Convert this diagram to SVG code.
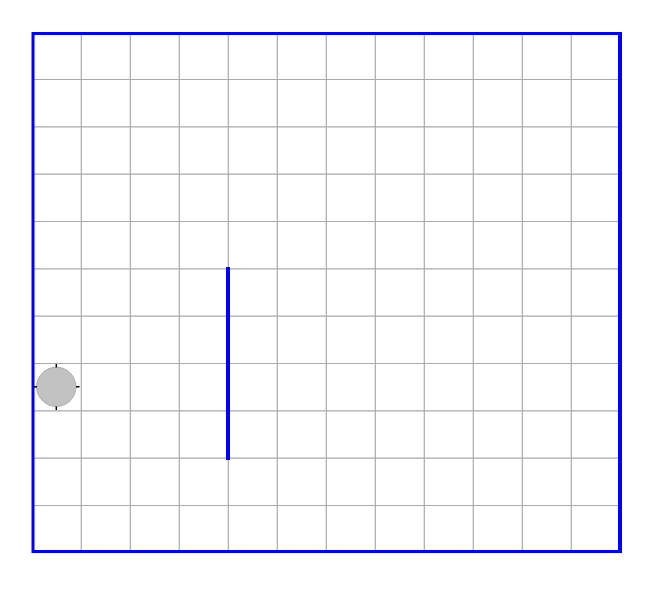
<svg xmlns="http://www.w3.org/2000/svg" width="653" height="589" viewBox="0 0 653 589">
<style>
.grid line{stroke:#aaaaaa;stroke-width:1.2}
.wall{stroke:#0000ff;fill:none}
.tick{stroke:#000;stroke-width:1.5}
</style>
<rect width="653" height="589" fill="#fff"/>
<g class="grid" id="grid">
<line x1="81.3" y1="33" x2="81.3" y2="551"/>
<line x1="130.3" y1="33" x2="130.3" y2="551"/>
<line x1="179.3" y1="33" x2="179.3" y2="551"/>
<line x1="228.3" y1="33" x2="228.3" y2="551"/>
<line x1="277.3" y1="33" x2="277.3" y2="551"/>
<line x1="326.3" y1="33" x2="326.3" y2="551"/>
<line x1="375.3" y1="33" x2="375.3" y2="551"/>
<line x1="424.3" y1="33" x2="424.3" y2="551"/>
<line x1="473.3" y1="33" x2="473.3" y2="551"/>
<line x1="522.3" y1="33" x2="522.3" y2="551"/>
<line x1="571.3" y1="33" x2="571.3" y2="551"/>
<line x1="32" y1="79.5" x2="620" y2="79.5"/>
<line x1="32" y1="126.8" x2="620" y2="126.8"/>
<line x1="32" y1="174.2" x2="620" y2="174.2"/>
<line x1="32" y1="221.5" x2="620" y2="221.5"/>
<line x1="32" y1="268.8" x2="620" y2="268.8"/>
<line x1="32" y1="316.2" x2="620" y2="316.2"/>
<line x1="32" y1="363.5" x2="620" y2="363.5"/>
<line x1="32" y1="410.8" x2="620" y2="410.8"/>
<line x1="32" y1="458.2" x2="620" y2="458.2"/>
<line x1="32" y1="505.5" x2="620" y2="505.5"/>
</g>
<g id="walls">
<rect class="wall" x="33" y="33.5" width="587" height="518" stroke-width="3"/>
<line class="wall" x1="620" y1="32" x2="620" y2="553" stroke-width="4"/>
<line class="wall" x1="228" y1="267" x2="228" y2="460" stroke-width="4"/>
</g>
<g id="robot">
<circle cx="56.3" cy="386.8" r="19.6" fill="#999999" fill-opacity="0.6" stroke="#aaaaaa" stroke-width="1"/>
<line class="tick" x1="56.3" y1="364" x2="56.3" y2="367.5"/>
<line class="tick" x1="56.3" y1="406.5" x2="56.3" y2="410"/>
<line class="tick" x1="33.5" y1="386.8" x2="37" y2="386.8"/>
<line class="tick" x1="76" y1="386.8" x2="79.5" y2="386.8"/>
</g>
</svg>
